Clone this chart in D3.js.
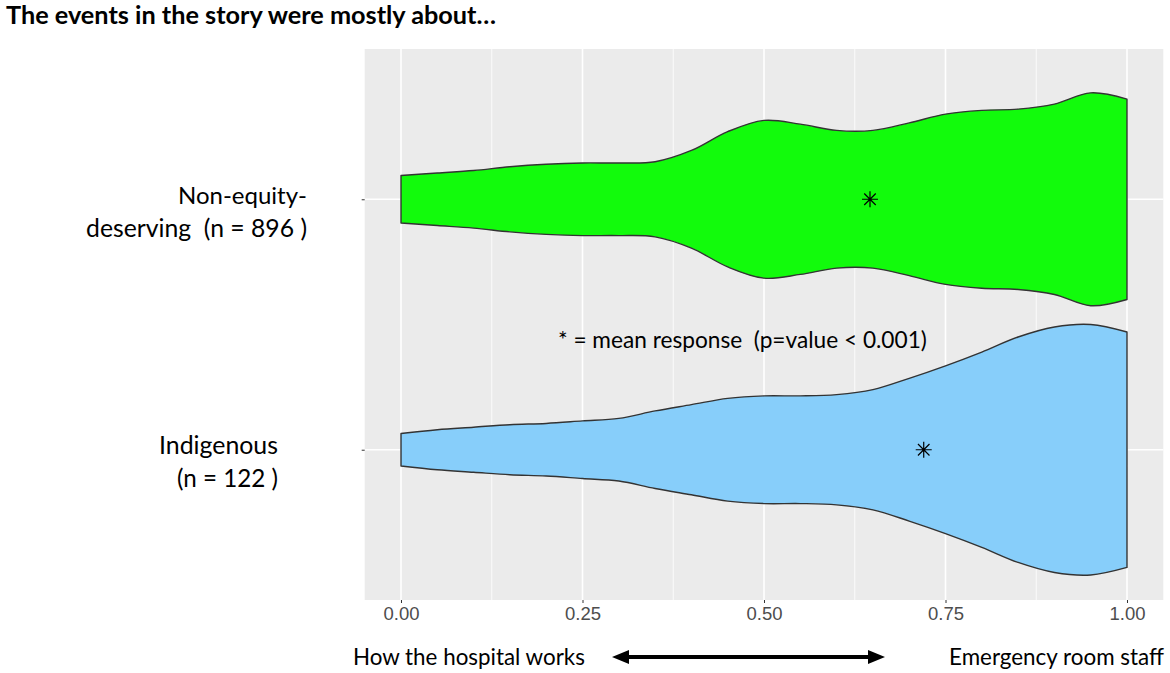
<!DOCTYPE html>
<html>
<head>
<meta charset="utf-8">
<script src="https://cdn.jsdelivr.net/npm/d3@7"></script>
<style>
    body { margin: 0; background: #ffffff; }
    text { white-space: pre; }
</style>
</head>
<body>
<svg id="canvas" width="1170" height="673"></svg>
<script>
// groups, top to bottom
let groups = ['Non-equity-deserving', 'Indigenous']
let groupLabels = [['Non-equity-', 'deserving  (n = 896 )'], ['Indigenous', '(n = 122 )']]
let groupColors = ['#12fb0c', '#87cefa']
let groupMeans = [0.646, 0.72]

// violin half-widths (1 = widest violin)
let densityX = [0, 0.05, 0.10, 0.15, 0.20, 0.25, 0.30, 0.35, 0.40, 0.45, 0.50,
                0.55, 0.60, 0.65, 0.70, 0.75, 0.80, 0.85, 0.90, 0.95, 1.00]
let nonEquityDensity = [0.19, 0.21, 0.23, 0.26, 0.28, 0.29, 0.29, 0.30, 0.39, 0.54, 0.63,
                        0.60, 0.55, 0.55, 0.61, 0.68, 0.71, 0.72, 0.76, 0.85, 0.80]
let indigenousDensity = [0.13, 0.16, 0.18, 0.20, 0.21, 0.23, 0.25, 0.31, 0.36, 0.41, 0.43,
                         0.43, 0.44, 0.48, 0.57, 0.67, 0.78, 0.90, 0.98, 1.00, 0.94]

let xTicks = [0, 0.25, 0.5, 0.75, 1]
let xMinorTicks = [0.125, 0.375, 0.625, 0.875]

let titleText = 'The events in the story were mostly about\u2026'
let noteText = '* = mean response  (p=value < 0.001)'
let leftEndLabel = 'How the hospital works'
let rightEndLabel = 'Emergency room staff'

let canvas = d3.select('#canvas')
let panel = {left: 364.7, right: 1163.3, top: 49, bottom: 600}
let labelFont = 'Lato, "Open Sans", sans-serif'

// scale font-size so the text is as wide as in the picture
let fitText = (sel, width) => {
    let size = parseFloat(sel.attr('font-size'))
    let len = sel.node().getComputedTextLength()
    sel.attr('font-size', (size * width / len).toFixed(2))
}

let x = d3.scaleLinear()
            .domain([-0.05, 1.05])
            .range([panel.left, panel.right])

let y = d3.scalePoint()
            .domain(groups)
            .range([panel.top, panel.bottom])
            .padding(0.6)

let halfWidth = d3.scaleLinear()
            .domain([0, 1])
            .range([0, y.step() / 2])

let drawChart = () => {

    canvas.append('rect')
            .attr('x', panel.left)
            .attr('y', panel.top)
            .attr('width', panel.right - panel.left)
            .attr('height', panel.bottom - panel.top)
            .attr('fill', '#ebebeb')

    canvas.selectAll('.minor-grid')
            .data(xMinorTicks)
            .enter()
            .append('line')
            .attr('class', 'minor-grid')
            .attr('x1', (d) => x(d))
            .attr('x2', (d) => x(d))
            .attr('y1', panel.top)
            .attr('y2', panel.bottom)
            .attr('stroke', '#ffffff')
            .attr('stroke-width', 0.8)

    canvas.selectAll('.major-grid')
            .data(xTicks)
            .enter()
            .append('line')
            .attr('class', 'major-grid')
            .attr('x1', (d) => x(d))
            .attr('x2', (d) => x(d))
            .attr('y1', panel.top)
            .attr('y2', panel.bottom)
            .attr('stroke', '#ffffff')
            .attr('stroke-width', 1.6)

    canvas.selectAll('.group-grid')
            .data(groups)
            .enter()
            .append('line')
            .attr('class', 'group-grid')
            .attr('x1', panel.left)
            .attr('x2', panel.right)
            .attr('y1', (d) => y(d))
            .attr('y2', (d) => y(d))
            .attr('stroke', '#ffffff')
            .attr('stroke-width', 1.6)

    let densities = [nonEquityDensity, indigenousDensity]

    groups.forEach((group, i) => {
        let cy = y(group)
        let points = densityX.map((v, j) => ({x: v, d: densities[i][j]}))

        let area = d3.area()
                .x((p) => x(p.x))
                .y0((p) => cy - halfWidth(p.d))
                .y1((p) => cy + halfWidth(p.d))
                .curve(d3.curveCatmullRom)

        canvas.append('path')
                .datum(points)
                .attr('d', area)
                .attr('fill', groupColors[i])
                .attr('stroke', '#333333')
                .attr('stroke-width', 1.4)
                .attr('stroke-linejoin', 'round')

        // mean marker, ggplot shape 8
        let s = 8
        let k = s * 0.72
        canvas.append('path')
                .attr('transform', 'translate(' + x(groupMeans[i]) + ', ' + cy + ')')
                .attr('d', 'M0,' + (-s) + 'V' + s + 'M' + (-s) + ',0H' + s +
                           'M' + (-k) + ',' + (-k) + 'L' + k + ',' + k +
                           'M' + (-k) + ',' + k + 'L' + k + ',' + (-k))
                .attr('stroke', '#000000')
                .attr('stroke-width', 1.2)
                .attr('fill', 'none')
    })

    let xAxis = d3.axisBottom(x)
                    .tickValues(xTicks)
                    .tickFormat(d3.format('.2f'))
                    .tickSize(3)
                    .tickPadding(4)

    let xAxisGroup = canvas.append('g')
            .attr('transform', 'translate(0, ' + panel.bottom + ')')
            .call(xAxis)
    xAxisGroup.select('.domain').remove()
    xAxisGroup.selectAll('line').attr('stroke', '#333333')
    xAxisGroup.selectAll('text')
            .attr('fill', '#4d4d4d')
            .attr('font-family', '"Liberation Sans", Arial, sans-serif')
            .attr('font-size', 18.5)

    let yAxis = d3.axisLeft(y)
                    .tickSize(3)
                    .tickFormat('')

    let yAxisGroup = canvas.append('g')
            .attr('transform', 'translate(' + panel.left + ', 0)')
            .call(yAxis)
    yAxisGroup.select('.domain').remove()
    yAxisGroup.selectAll('line').attr('stroke', '#333333')

    // group labels, two lines each
    let labelRight = [307, 278]
    let labelWidths = [[129, 221], [119, 101]]
    groups.forEach((group, i) => {
        groupLabels[i].forEach((line, j) => {
            let t = canvas.append('text')
                    .attr('x', labelRight[i])
                    .attr('y', y(group) + 4.5 + j * 33)
                    .attr('text-anchor', 'end')
                    .attr('font-family', labelFont)
                    .attr('font-size', 24)
                    .attr('fill', '#000000')
                    .text(line)
            fitText(t, labelWidths[i][j])
        })
    })

    let title = canvas.append('text')
            .attr('x', 6)
            .attr('y', 24)
            .attr('font-family', labelFont)
            .attr('font-weight', 'bold')
            .attr('font-size', 22)
            .attr('fill', '#000000')
            .text(titleText)
    fitText(title, 490)

    let note = canvas.append('text')
            .attr('x', 558)
            .attr('y', 348)
            .attr('font-family', labelFont)
            .attr('font-size', 19)
            .attr('fill', '#000000')
            .text(noteText)
    fitText(note, 369)

    let leftLabel = canvas.append('text')
            .attr('x', 353)
            .attr('y', 665)
            .attr('font-family', labelFont)
            .attr('font-size', 20)
            .attr('fill', '#000000')
            .text(leftEndLabel)
    fitText(leftLabel, 232)

    let rightLabel = canvas.append('text')
            .attr('x', 949)
            .attr('y', 665)
            .attr('font-family', labelFont)
            .attr('font-size', 20)
            .attr('fill', '#000000')
            .text(rightEndLabel)
    fitText(rightLabel, 215)

    // double-headed arrow between the two end labels
    let arrowY = 657
    let arrowLeft = 612
    let arrowRight = 885
    let headLen = 17
    let headHalf = 7

    canvas.append('line')
            .attr('x1', arrowLeft + headLen - 2)
            .attr('x2', arrowRight - headLen + 2)
            .attr('y1', arrowY)
            .attr('y2', arrowY)
            .attr('stroke', '#000000')
            .attr('stroke-width', 4)

    canvas.append('path')
            .attr('d', 'M' + arrowLeft + ',' + arrowY +
                       'L' + (arrowLeft + headLen) + ',' + (arrowY - headHalf) +
                       'L' + (arrowLeft + headLen) + ',' + (arrowY + headHalf) + 'Z' +
                       'M' + arrowRight + ',' + arrowY +
                       'L' + (arrowRight - headLen) + ',' + (arrowY - headHalf) +
                       'L' + (arrowRight - headLen) + ',' + (arrowY + headHalf) + 'Z')
            .attr('fill', '#000000')
}

drawChart()
</script>
</body>
</html>
